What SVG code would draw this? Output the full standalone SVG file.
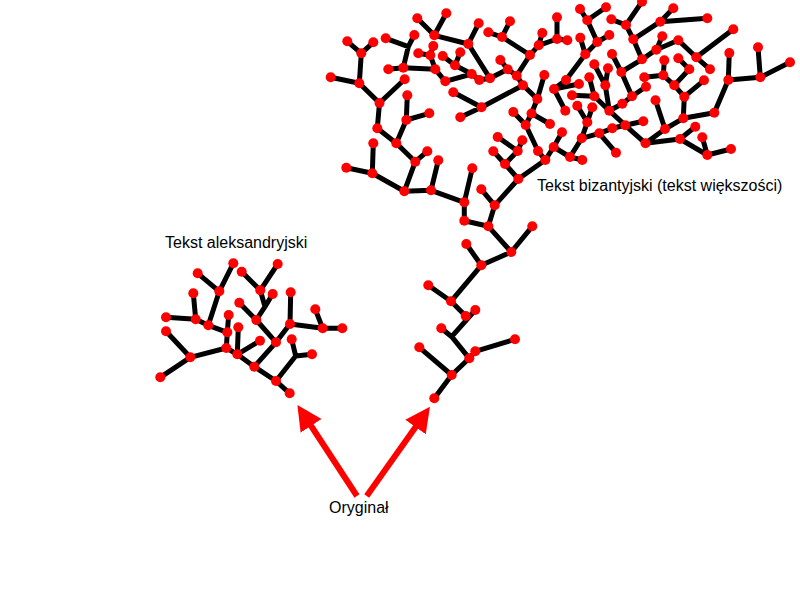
<svg xmlns="http://www.w3.org/2000/svg" width="800" height="600" viewBox="0 0 800 600">
<style>
.e{fill:none;stroke:#000;stroke-width:5;stroke-linejoin:round;stroke-linecap:butt}
.d{fill:#f00}
.ar{fill:none;stroke:#f00;stroke-width:6}
.t{font-family:"Liberation Sans",Arial,Helvetica,sans-serif;font-size:16px;fill:#000}
</style>
<defs>
<marker id="ah" markerUnits="userSpaceOnUse" markerWidth="30" markerHeight="30" viewBox="0 -15 30 30" refX="10" refY="0" orient="auto">
<path d="M0,-12.5 L25,0 L0,12.5 z" fill="#f00"/>
</marker>
</defs>
<rect width="800" height="600" fill="#fff"/>
<g id="connectors">
<path id="edges-alexandrian" class="e" d="M289.7,393.3L276,381 M276,381L254.3,366.7 M276,381L295.7,356 M295.7,356L312,354.3 M295.7,356L291.7,339.3 M254.3,366.7L237.3,354.3 M254.3,366.7L276,342.3 M276,342.3L256.3,320 M276,342.3L290,324 M290,324L290.7,292.3 M290,324L322.7,328.3 M322.7,328.3L315.3,309.3 M322.7,328.3L342.3,328.3 M256.3,320L239.3,302.7 M256.3,320L265,306.7 M265,306.7L260.3,290.3 M265,306.7L272.7,294 M260.3,290.3L241.7,271.7 M260.3,290.3L277.7,264 M237.3,354.3L260,340.7 M237.3,354.3L226.3,348 M237.3,354.3L238.3,327.3 M226.3,348L227.3,332.3 M226.3,348L190.3,357.3 M227.3,332.3L228.7,315 M227.3,332.3L208.3,325.3 M208.3,325.3L195.7,319.3 M208.3,325.3L219.3,291.3 M195.7,319.3L166,317.3 M195.7,319.3L193.3,293.3 M219.3,291.3L197.7,273.3 M219.3,291.3L233.3,263.3 M190.3,357.3L166,331.3 M190.3,357.3L160.3,377.3"/>
<path id="edges-byzantine" class="e" d="M434.3,398.3L451.7,375 M451.7,375L419.3,347.3 M451.7,375L469.3,358.3 M469.3,358.3L475.3,351.3 M475.3,351.3L515,339.3 M469.3,358.3L451.7,336.7 M451.7,336.7L441.3,328.3 M451.7,336.7L475.3,310 M465.7,316L451,301.3 M451,301.3L428.3,285.3 M451,301.3L481.3,265.3 M481.3,265.3L466.3,244 M481.3,265.3L511.3,252 M511.3,252L532.3,226.3 M511.3,252L488.3,226.3 M488.3,226.3L464.3,220.7 M488.3,226.3L494.7,205.3 M494.7,205.3L481.3,189.3 M494.7,205.3L518.3,179 M464.3,220.7L464.3,202.3 M464.3,202.3L431,190.3 M464.3,202.3L472.3,168.3 M431,190.3L404.3,191.3 M431,190.3L438.3,160.3 M404.3,191.3L372.3,173.3 M404.3,191.3L415.3,161.7 M372.3,173.3L346.3,167.7 M372.3,173.3L373.3,143.3 M415.3,161.7L427.3,151.3 M415.3,161.7L396.3,143.3 M396.3,143.3L377.3,128.3 M396.3,143.3L406.3,120 M377.3,128.3L379.5,103 M406.3,120L429.3,113.3 M406.3,120L407.3,95.3 M379.5,103L404.7,79.3 M379.5,103L359.3,83.3 M359.3,83.3L330.7,77.3 M359.3,83.3L361.3,53.3 M361.3,53.3L347.3,41.3 M361.3,53.3L373.3,42.3 M403.3,67.7L408.3,46.7 M408.3,46.7L385.7,38.3 M408.3,46.7L414.3,35 M403.3,67.7L388.3,69.3 M403.3,67.7L435.3,69.3 M435.3,69.3L430.3,55.3 M430.3,55.3L418.3,53.3 M430.3,55.3L433.3,46 M435.3,69.3L445.3,81.3 M445.3,81.3L471.7,74 M471.7,74L479.3,80 M479.3,80L490,78.3 M471.7,74L455,65.3 M455,65.3L442.7,56 M455,65.3L460.3,52.3 M434.3,35.3L417.3,18.3 M434.3,35.3L446.3,13.3 M434.3,35.3L468.3,44 M468.3,44L478.7,23.3 M468.3,44L490,78.3 M453.3,92.3L481.5,107.3 M481.5,107.3L460.3,117.3 M481.5,107.3L523,85.3 M587.3,20.3L580,9 M587.3,20.3L606,7.3 M587.3,20.3L597.3,42 M597.3,42L609.3,35 M597.3,42L585.3,54.3 M585.3,54.3L580.3,37.7 M585.3,54.3L566,80 M566,80L554,89 M554,89L579,84 M554,89L565.3,110.7 M626,25L611.3,19.3 M626,25L642,1.7 M626,25L633.3,39.3 M633.3,39.3L660.3,21.7 M633.3,39.3L642,59.3 M642,59.3L621.3,72 M621.3,72L612,54 M621.3,72L632,96.3 M632,96.3L622.3,103.7 M632,96.3L646,86.7 M622.3,103.7L609.3,110.7 M609.3,110.7L605.3,85.3 M605.3,85.3L608,68.3 M605.3,85.3L594.3,64.3 M609.3,110.7L594.3,96.3 M594.3,96.3L572,95.3 M594.3,96.3L589.3,77.3 M577.3,105.7L587.3,122.3 M592.3,107.3L587.3,122.3 M502,37L488.3,32.3 M502,37L510,21.3 M502,37L530,55 M530,55L538.7,45.3 M538.7,45.3L542.3,33 M538.7,45.3L557,39 M557,39L557,17.3 M557,39L567.3,40.3 M530,55L516.7,75.7 M516.7,75.7L507.7,69.3 M507.7,69.3L500.3,60 M507.7,69.3L490,78.3 M516.7,75.7L523,85.3 M523,85.3L537.3,99 M537.3,99L544.3,75 M537.3,99L531.5,113.5 M518.3,179L505,164 M518.3,179L545.3,160 M505,164L493.3,151.3 M505,164L517.7,151 M517.7,151L522.3,140.3 M517.7,151L497.7,137 M545.3,160L538,151 M538,151L525.7,125 M525.7,125L513.3,112 M525.7,125L531.5,113.5 M531.5,113.5L550,124 M545.3,160L553.7,147 M553.7,147L562,132.3 M553.7,147L570,157 M570,157L582.3,160 M570,157L581.7,138.3 M581.7,138.3L587.3,122.3 M581.7,138.3L599.3,133.3 M599.3,133.3L612.3,128.3 M599.3,133.3L616,152.7 M612.3,128.3L625.3,125.3 M625.3,125.3L609.3,110.7 M625.3,125.3L643.3,121.3 M625.3,125.3L645.5,143.3 M645.5,143.3L665,129 M645.5,143.3L680,139 M680,139L695.3,126.7 M680,139L707.3,155 M707.3,155L702.3,137.3 M707.3,155L731,149 M665,129L655.5,100.3 M665,129L683.3,118.3 M683.3,118.3L684.3,96.7 M683.3,118.3L714.3,112.7 M660.3,21.7L673.3,8.3 M660.3,21.7L707.3,18.3 M642,59.3L656.3,49.7 M656.3,49.7L662.3,36.3 M656.3,49.7L678.3,40.3 M678.3,40.3L696.3,57.3 M696.3,57.3L733.3,29.3 M696.3,57.3L710,69.3 M664.3,60.3L663.3,75.3 M663.3,75.3L644.3,77.3 M663.3,75.3L674.3,85.3 M674.3,85.3L689.3,69.3 M689.3,69.3L678.3,58.3 M674.3,85.3L684.3,96.7 M704,80.3L684.3,96.7 M729.3,53L728.3,80 M728.3,80L760.3,77.3 M760.3,77.3L758,47.3 M760.3,77.3L790,62.3 M728.3,80L714.3,112.7"/>
<path id="arrow-left" class="ar" d="M357,496 L305.6,417.5" marker-end="url(#ah)"/>
<path id="arrow-right" class="ar" d="M366.7,496 L421.3,418.9" marker-end="url(#ah)"/>
</g>
<g id="nodes-alexandrian" class="d">
<circle cx="289.7" cy="393.3" r="5"/><circle cx="276" cy="381" r="5"/><circle cx="254.3" cy="366.7" r="5"/><circle cx="237.3" cy="354.3" r="5"/><circle cx="226.3" cy="348" r="5"/><circle cx="190.3" cy="357.3" r="5"/><circle cx="160.3" cy="377.3" r="5"/><circle cx="166" cy="331.3" r="5"/><circle cx="227.3" cy="332.3" r="5"/><circle cx="228.7" cy="315" r="5"/><circle cx="208.3" cy="325.3" r="5"/><circle cx="195.7" cy="319.3" r="5"/><circle cx="166" cy="317.3" r="5"/><circle cx="193.3" cy="293.3" r="5"/><circle cx="219.3" cy="291.3" r="5"/><circle cx="197.7" cy="273.3" r="5"/><circle cx="233.3" cy="263.3" r="5"/><circle cx="238.3" cy="327.3" r="5"/><circle cx="260" cy="340.7" r="5"/><circle cx="276" cy="342.3" r="5"/><circle cx="256.3" cy="320" r="5"/><circle cx="239.3" cy="302.7" r="5"/><circle cx="260.3" cy="290.3" r="5"/><circle cx="272.7" cy="294" r="5"/><circle cx="241.7" cy="271.7" r="5"/><circle cx="277.7" cy="264" r="5"/><circle cx="290" cy="324" r="5"/><circle cx="290.7" cy="292.3" r="5"/><circle cx="322.7" cy="328.3" r="5"/><circle cx="315.3" cy="309.3" r="5"/><circle cx="342.3" cy="328.3" r="5"/><circle cx="291.7" cy="339.3" r="5"/><circle cx="312" cy="354.3" r="5"/>
</g>
<g id="nodes-byzantine" class="d">
<circle cx="434.3" cy="398.3" r="5"/><circle cx="451.7" cy="375" r="5"/><circle cx="419.3" cy="347.3" r="5"/><circle cx="469.3" cy="358.3" r="5"/><circle cx="475.3" cy="351.3" r="5"/><circle cx="515" cy="339.3" r="5"/><circle cx="441.3" cy="328.3" r="5"/><circle cx="465.7" cy="316" r="5"/><circle cx="475.3" cy="310" r="5"/><circle cx="451" cy="301.3" r="5"/><circle cx="428.3" cy="285.3" r="5"/><circle cx="481.3" cy="265.3" r="5"/><circle cx="466.3" cy="244" r="5"/><circle cx="511.3" cy="252" r="5"/><circle cx="532.3" cy="226.3" r="5"/><circle cx="488.3" cy="226.3" r="5"/><circle cx="464.3" cy="220.7" r="5"/><circle cx="494.7" cy="205.3" r="5"/><circle cx="481.3" cy="189.3" r="5"/><circle cx="518.3" cy="179" r="5"/><circle cx="464.3" cy="202.3" r="5"/><circle cx="431" cy="190.3" r="5"/><circle cx="404.3" cy="191.3" r="5"/>
<circle cx="379.5" cy="103" r="5"/><circle cx="429.3" cy="113.3" r="5"/><circle cx="406.3" cy="120" r="5"/><circle cx="377.3" cy="128.3" r="5"/><circle cx="396.3" cy="143.3" r="5"/><circle cx="373.3" cy="143.3" r="5"/><circle cx="427.3" cy="151.3" r="5"/><circle cx="415.3" cy="161.7" r="5"/><circle cx="438.3" cy="160.3" r="5"/><circle cx="346.3" cy="167.7" r="5"/><circle cx="372.3" cy="173.3" r="5"/><circle cx="472.3" cy="168.3" r="5"/>
<circle cx="446.3" cy="13.3" r="5"/><circle cx="417.3" cy="18.3" r="5"/><circle cx="434.3" cy="35.3" r="5"/><circle cx="478.7" cy="23.3" r="5"/><circle cx="488.3" cy="32.3" r="5"/><circle cx="468.3" cy="44" r="5"/><circle cx="347.3" cy="41.3" r="5"/><circle cx="373.3" cy="42.3" r="5"/><circle cx="361.3" cy="53.3" r="5"/><circle cx="385.7" cy="38.3" r="5"/><circle cx="414.3" cy="35" r="5"/><circle cx="433.3" cy="46" r="5"/><circle cx="418.3" cy="53.3" r="5"/><circle cx="430.3" cy="55.3" r="5"/><circle cx="442.7" cy="56" r="5"/><circle cx="460.3" cy="52.3" r="5"/><circle cx="455" cy="65.3" r="5"/><circle cx="388.3" cy="69.3" r="5"/><circle cx="403.3" cy="67.7" r="5"/><circle cx="435.3" cy="69.3" r="5"/><circle cx="471.7" cy="74" r="5"/><circle cx="479.3" cy="80" r="5"/><circle cx="490" cy="78.3" r="5"/><circle cx="330.7" cy="77.3" r="5"/><circle cx="359.3" cy="83.3" r="5"/><circle cx="445.3" cy="81.3" r="5"/><circle cx="404.7" cy="79.3" r="5"/><circle cx="453.3" cy="92.3" r="5"/><circle cx="407.3" cy="95.3" r="5"/><circle cx="481.5" cy="107.3" r="5"/><circle cx="460.3" cy="117.3" r="5"/>
<circle cx="580" cy="9" r="5"/><circle cx="606" cy="7.3" r="5"/><circle cx="642" cy="1.7" r="5"/><circle cx="510" cy="21.3" r="5"/><circle cx="557" cy="17.3" r="5"/><circle cx="587.3" cy="20.3" r="5"/><circle cx="611.3" cy="19.3" r="5"/><circle cx="626" cy="25" r="5"/><circle cx="502" cy="37" r="5"/><circle cx="542.3" cy="33" r="5"/><circle cx="557" cy="39" r="5"/><circle cx="567.3" cy="40.3" r="5"/><circle cx="580.3" cy="37.7" r="5"/><circle cx="609.3" cy="35" r="5"/><circle cx="633.3" cy="39.3" r="5"/><circle cx="538.7" cy="45.3" r="5"/><circle cx="597.3" cy="42" r="5"/><circle cx="530" cy="55" r="5"/><circle cx="585.3" cy="54.3" r="5"/><circle cx="612" cy="54" r="5"/><circle cx="642" cy="59.3" r="5"/><circle cx="500.3" cy="60" r="5"/><circle cx="507.7" cy="69.3" r="5"/><circle cx="594.3" cy="64.3" r="5"/><circle cx="608" cy="68.3" r="5"/><circle cx="621.3" cy="72" r="5"/><circle cx="544.3" cy="75" r="5"/><circle cx="516.7" cy="75.7" r="5"/><circle cx="589.3" cy="77.3" r="5"/><circle cx="644.3" cy="77.3" r="5"/><circle cx="523" cy="85.3" r="5"/><circle cx="579" cy="84" r="5"/><circle cx="605.3" cy="85.3" r="5"/><circle cx="554" cy="89" r="5"/><circle cx="646" cy="86.7" r="5"/><circle cx="572" cy="95.3" r="5"/><circle cx="594.3" cy="96.3" r="5"/><circle cx="632" cy="96.3" r="5"/><circle cx="537.3" cy="99" r="5"/><circle cx="577.3" cy="105.7" r="5"/><circle cx="592.3" cy="107.3" r="5"/><circle cx="622.3" cy="103.7" r="5"/><circle cx="609.3" cy="110.7" r="5"/><circle cx="513.3" cy="112" r="5"/><circle cx="531.5" cy="113.5" r="5"/><circle cx="565.3" cy="110.7" r="5"/><circle cx="566" cy="80" r="5"/>
<circle cx="587.3" cy="122.3" r="5"/><circle cx="550" cy="124" r="5"/><circle cx="525.7" cy="125" r="5"/><circle cx="625.3" cy="125.3" r="5"/><circle cx="643.3" cy="121.3" r="5"/><circle cx="612.3" cy="128.3" r="5"/><circle cx="599.3" cy="133.3" r="5"/><circle cx="562" cy="132.3" r="5"/><circle cx="497.7" cy="137" r="5"/><circle cx="522.3" cy="140.3" r="5"/><circle cx="645.5" cy="143.3" r="5"/><circle cx="581.7" cy="138.3" r="5"/><circle cx="553.7" cy="147" r="5"/><circle cx="493.3" cy="151.3" r="5"/><circle cx="517.7" cy="151" r="5"/><circle cx="538" cy="151" r="5"/><circle cx="616" cy="152.7" r="5"/><circle cx="570" cy="157" r="5"/><circle cx="582.3" cy="160" r="5"/><circle cx="545.3" cy="160" r="5"/><circle cx="505" cy="164" r="5"/>
<circle cx="655.5" cy="100.3" r="5"/><circle cx="665" cy="129" r="5"/><circle cx="683.3" cy="118.3" r="5"/><circle cx="695.3" cy="126.7" r="5"/><circle cx="702.3" cy="137.3" r="5"/><circle cx="680" cy="139" r="5"/><circle cx="731" cy="149" r="5"/><circle cx="707.3" cy="155" r="5"/>
<circle cx="673.3" cy="8.3" r="5"/><circle cx="707.3" cy="18.3" r="5"/><circle cx="660.3" cy="21.7" r="5"/><circle cx="733.3" cy="29.3" r="5"/><circle cx="662.3" cy="36.3" r="5"/><circle cx="678.3" cy="40.3" r="5"/><circle cx="656.3" cy="49.7" r="5"/><circle cx="758" cy="47.3" r="5"/><circle cx="729.3" cy="53" r="5"/><circle cx="696.3" cy="57.3" r="5"/><circle cx="664.3" cy="60.3" r="5"/><circle cx="678.3" cy="58.3" r="5"/><circle cx="790" cy="62.3" r="5"/><circle cx="689.3" cy="69.3" r="5"/><circle cx="710" cy="69.3" r="5"/><circle cx="663.3" cy="75.3" r="5"/><circle cx="728.3" cy="80" r="5"/><circle cx="760.3" cy="77.3" r="5"/><circle cx="704" cy="80.3" r="5"/><circle cx="674.3" cy="85.3" r="5"/><circle cx="684.3" cy="96.7" r="5"/><circle cx="714.3" cy="112.7" r="5"/>
</g>
<g id="label-alexandrian"><text class="t" x="165" y="248">Tekst aleksandryjski</text></g>
<g id="label-byzantine"><text class="t" x="537" y="191">Tekst bizantyjski (tekst większości)</text></g>
<g id="label-original"><text class="t" x="329" y="513">Oryginał</text></g>
</svg>
